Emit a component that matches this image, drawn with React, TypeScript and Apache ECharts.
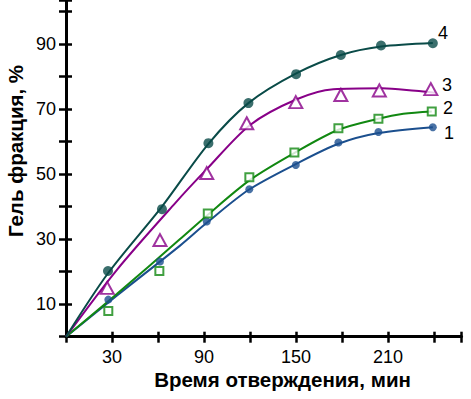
import React, { useEffect, useRef } from "react";
import * as echarts from "echarts";

// Tick labels shown on the axes
const xTickLabels = [30, 90, 150, 210];
const yTickLabels = [10, 30, 50, 70, 90];

// Series labels (curve numbers)
const seriesNames = ["1", "2", "3", "4"];
const seriesColors = ["#1b4f8e", "#118811", "#880088", "#0a4b48"];

// Measured points: [time, min; gel fraction, %]
const points1 = [[27.6, 11.4], [61.3, 23.1], [91.8, 35.4], [119.6, 45.3], [149.9, 52.8], [177.7, 59.7], [203.8, 62.9], [239.3, 64.4]];
const points2 = [[27.6, 7.9], [60.9, 20.2], [92.5, 37.9], [119.6, 49.0], [149.0, 56.6], [177.7, 64.1], [203.8, 67.0], [238.6, 69.2]];
const points3 = [[26.9, 15.0], [61.3, 29.7], [91.8, 50.3], [117.9, 65.6], [149.9, 72.1], [179.3, 74.3], [204.4, 75.7], [238.0, 76.1]];
const points4 = [[27.4, 20.2], [62.6, 39.2], [92.9, 59.5], [119.0, 71.8], [150.1, 80.7], [179.3, 86.6], [205.5, 89.5], [239.3, 90.2]];

// Fitted curves
const curve1 = [[0, 0], [33.1, 12.6], [74.4, 28.0], [91.8, 35.0], [119.0, 45.1], [150.5, 53.2], [177.7, 59.3], [203.8, 62.6], [239.3, 64.4]];
const curve2 = [[0, 0], [33.1, 13.1], [74.4, 30.0], [91.8, 37.2], [120.1, 48.2], [149.4, 56.6], [177.7, 63.6], [203.8, 67.0], [220.1, 68.5], [238.6, 69.2]];
const curve3 = [[0, 0], [33.1, 20.5], [71.1, 41.0], [91.8, 51.5], [120.1, 65.1], [150.5, 73.0], [174.4, 76.1], [206.2, 76.4], [228.0, 75.6], [240.7, 75.0]];
const curve4 = [[0, 0], [27.4, 19.5], [62.6, 40.0], [92.9, 59.3], [119.0, 71.8], [150.5, 81.0], [179.3, 86.6], [205.5, 89.2], [239.3, 90.3]];

const curves = [curve1, curve2, curve3, curve4];
const points = [points1, points2, points3, points4];

const FONT = "Liberation Sans, Arial, sans-serif";

export default function App() {
  const ref = useRef<HTMLDivElement>(null);

  useEffect(() => {
    if (!ref.current) return;
    const chart = echarts.init(ref.current, null, { renderer: "svg" });

    const axisCommonX = {
      type: "value" as const,
      min: 0,
      max: 258,
      interval: 30,
      splitLine: { show: false },
    };
    const axisCommonY = {
      type: "value" as const,
      min: 0,
      max: 103.5,
      interval: 10,
      splitLine: { show: false },
    };

    const symbolFor = (i: number) => (i === 0 ? "circle" : i === 1 ? "rect" : i === 2 ? "triangle" : "circle");
    const sizeFor = (i: number) => (i === 0 ? 8 : i === 1 ? 8 : i === 2 ? [13, 12] : 10);
    const hollow = (i: number) => i === 1 || i === 2;

    const lineSeries = curves.map((c, i) => ({
      type: "line",
      name: "curve" + seriesNames[i],
      data: c,
      smooth: 0.3,
      showSymbol: false,
      symbol: "none",
      lineStyle: { color: seriesColors[i], width: 2 },
      z: 2,
    }));
    const scatterSeries = points.map((p, i) => ({
      type: "scatter",
      name: "points" + seriesNames[i],
      data: p,
      symbol: symbolFor(i),
      symbolSize: sizeFor(i),
      itemStyle: hollow(i)
        ? { color: "#ffffff", borderColor: seriesColors[i], borderWidth: 2 }
        : { color: seriesColors[i] },
      z: 3,
    }));

    const labelPos = [
      { x: 449, y: 133 },
      { x: 448, y: 108 },
      { x: 447, y: 85 },
      { x: 443, y: 33 },
    ];

    chart.setOption({
      animation: false,
      backgroundColor: "#ffffff",
      grid: { left: 66, right: 9.5, top: 0, bottom: 62.3, outerBoundsMode: "none", containLabel: false },
      xAxis: [
        {
          ...axisCommonX,
          axisLine: { show: true, onZero: false, lineStyle: { color: "#000", width: 3 } },
          axisTick: { show: true, inside: false, length: 6, lineStyle: { color: "#000", width: 2.5 } },
          axisLabel: {
            show: true,
            margin: 11,
            color: "#000",
            fontFamily: FONT,
            fontSize: 18,
            formatter: (v: number) => (xTickLabels.includes(v) ? String(v) : ""),
          },
        },
        {
          ...axisCommonX,
          position: "bottom",
          axisLine: { show: false },
          axisTick: { show: true, inside: true, length: 5, lineStyle: { color: "#000", width: 2.5 } },
          axisLabel: { show: false },
        },
      ],
      yAxis: [
        {
          ...axisCommonY,
          axisLine: { show: true, onZero: false, lineStyle: { color: "#000", width: 3 } },
          axisTick: { show: true, inside: false, length: 7, lineStyle: { color: "#000", width: 2.5 } },
          axisLabel: {
            show: true,
            margin: 10,
            color: "#000",
            fontFamily: FONT,
            fontSize: 18,
            formatter: (v: number) => (yTickLabels.includes(v) ? String(v) : ""),
          },
        },
        {
          ...axisCommonY,
          position: "left",
          axisLine: { show: false },
          axisTick: { show: true, inside: true, length: 6, lineStyle: { color: "#000", width: 2.5 } },
          axisLabel: { show: false },
        },
      ],
      graphic: [
        {
          type: "text",
          x: 282.5,
          y: 379,
          style: {
            text: "Время отверждения, мин",
            fontFamily: FONT,
            fontWeight: "bold",
            fontSize: 20.5,
            fill: "#000",
            align: "center",
            verticalAlign: "middle",
          },
        },
        {
          type: "text",
          x: 15,
          y: 151,
          rotation: Math.PI / 2,
          style: {
            text: "Гель фракция, %",
            fontFamily: FONT,
            fontWeight: "bold",
            fontSize: 20.5,
            fill: "#000",
            align: "center",
            verticalAlign: "middle",
          },
        },
        ...seriesNames.map((n, i) => ({
          type: "text",
          x: labelPos[i].x,
          y: labelPos[i].y,
          style: {
            text: n,
            fontFamily: FONT,
            fontSize: 18,
            fill: "#000",
            align: "center",
            verticalAlign: "middle",
          },
        })),
      ],
      series: [...lineSeries, ...scatterSeries],
    });

    return () => chart.dispose();
  }, []);

  return (
    <div
      ref={ref}
      style={{ position: "fixed", left: 0, top: 0, width: 471, height: 399, background: "#fff" }}
    />
  );
}
